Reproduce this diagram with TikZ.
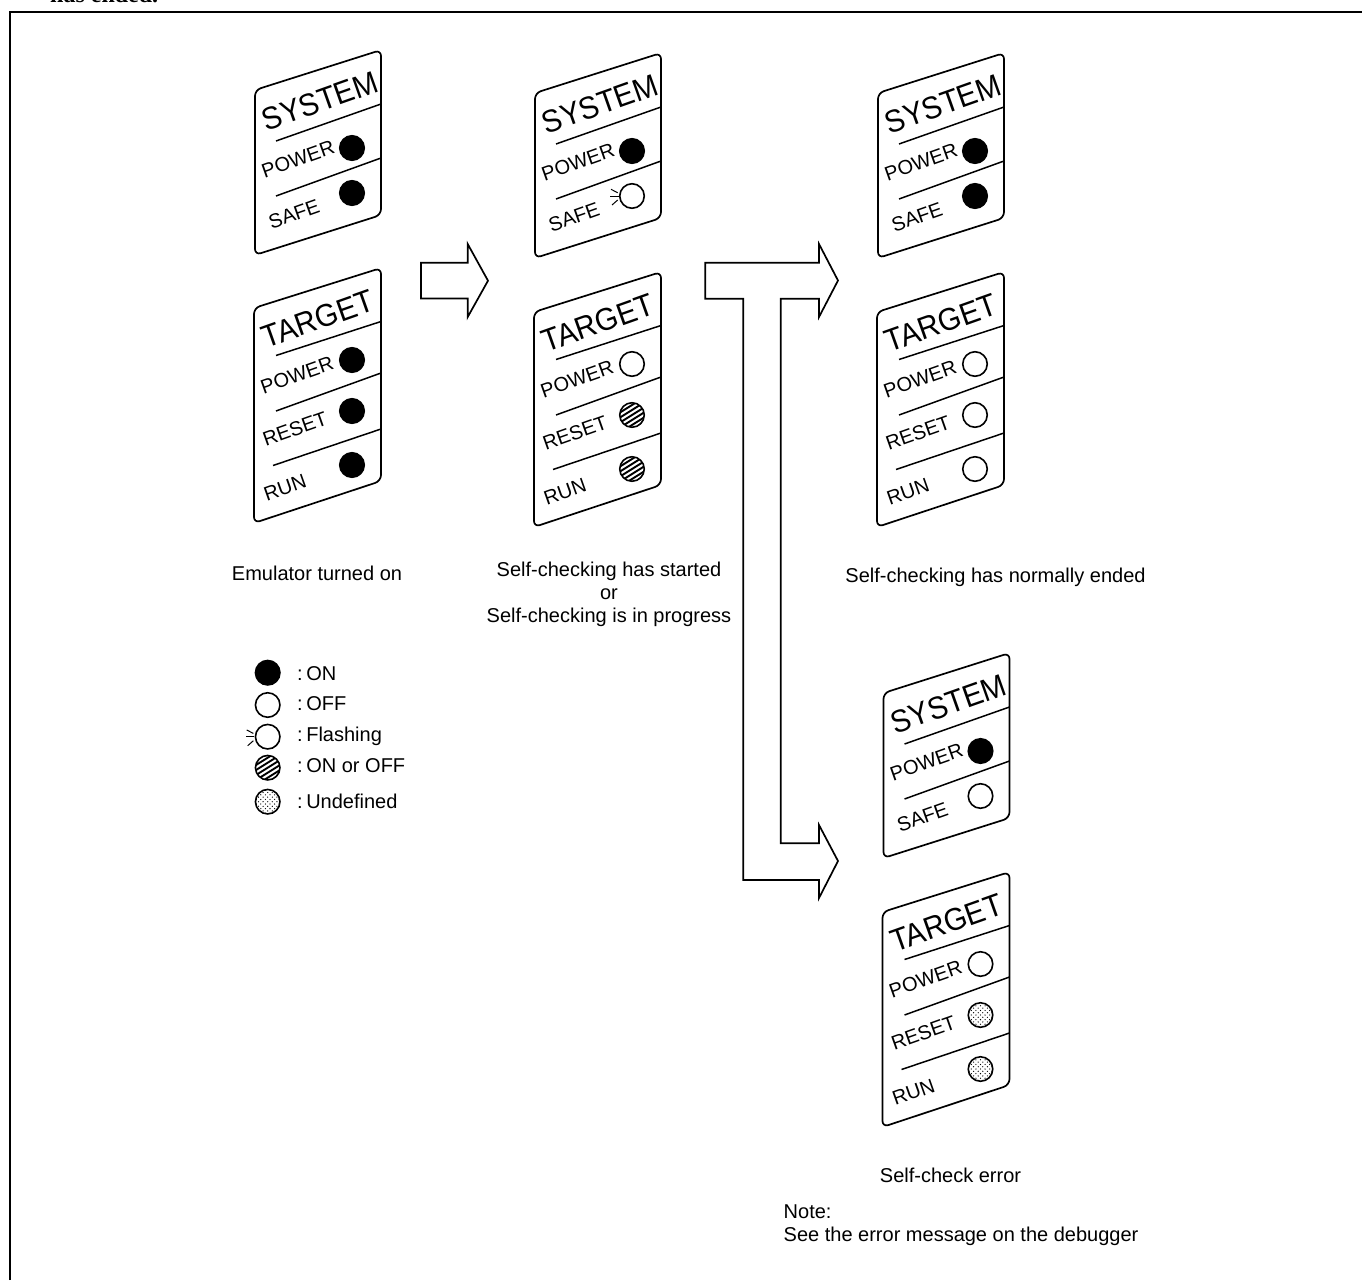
\documentclass[tikz,border=0pt]{standalone}
\usepackage{fontspec}
\setmainfont{Liberation Sans}
\newfontfamily\topserif{Liberation Serif}
\tikzset{
  x=1pt,y=-1pt,
  panelline/.style={line width=1.7pt,line join=round},
  sepline/.style={line width=1.5pt},
  blockarrow/.style={line width=1.7pt,line join=miter,fill=white},
  lbl/.style={inner sep=0pt,font=\fontsize{20}{23}\selectfont},
  ttl/.style={inner sep=0pt,rotate=19.5,xscale=.93,font=\fontsize{31.5}{32}\selectfont},
  row/.style={inner sep=0pt,rotate=19.5,font=\fontsize{20}{20}\selectfont},
  led/.style={circle,inner sep=0pt,minimum size=24.5pt,line width=1.6pt,draw=black},
  ledon/.style={led,fill=black},
  ledoff/.style={led,fill=white},
  ledhatch/.style={led,fill=white,path picture={
    \begin{scope}[shift={(path picture bounding box.center)}]
      \foreach \d in {-30,-25,...,30}
        \draw[line width=1.9pt] (-16,\d+10) -- (16,\d-10);
    \end{scope}}},
  leddots/.style={led,fill=white,path picture={
    \begin{scope}[shift={(path picture bounding box.center)}]
      \foreach \i in {-3,...,3} \foreach \j in {-3,...,3}{
        \fill[black] (\i*4.6,\j*4.6) circle (0.65pt);
        \fill[black] (\i*4.6+2.3,\j*4.6+2.3) circle (0.65pt);}
    \end{scope}}},
  ray/.style={line width=1pt},
}
\newcommand{\flashrays}[1]{%
  \draw[ray] ([shift={(-21,-6.7)}]#1.center) -- ([shift={(-14.3,-3.3)}]#1.center);
  \draw[ray] ([shift={(-21.7,0)}]#1.center) -- ([shift={(-13.3,0)}]#1.center);
  \draw[ray] ([shift={(-20,9)}]#1.center) -- ([shift={(-14.3,4)}]#1.center);}
% #1 prefix, #2 #3 shift, #4 #5 led styles
\newcommand{\syspanel}[5]{%
\begin{scope}[shift={(#2,#3)}]
  \draw[panelline,rounded corners=6pt] (535,93) -- (661,53) -- (661,218) -- (535,258) -- cycle;
  \draw[sepline] (556,144) -- (661,107);
  \draw[sepline] (556,199) -- (661,161);
  \node[ttl] (#1title) at (600,104) {SYSTEM};
  \node[row] (#1power) at (578,162) {POWER};
  \node[row] (#1safe) at (574,217) {SAFE};
  \node[#4] (#1a) at (632,151) {};
  \node[#5] (#1b) at (632,196) {};
\end{scope}}
\newcommand{\tgtpanel}[6]{%
\begin{scope}[shift={(#2,#3)}]
  \draw[panelline,rounded corners=6pt] (534,312) -- (661,272) -- (661,485) -- (534,527) -- cycle;
  \draw[sepline] (556,359.5) -- (661,325.5);
  \draw[sepline] (556,415) -- (661,377);
  \draw[sepline] (553,469.5) -- (661,433);
  \node[ttl] (#1title) at (598,323) {TARGET};
  \node[row] (#1power) at (577,379) {POWER};
  \node[row] (#1reset) at (575,433) {RESET};
  \node[row] (#1run) at (565,492) {RUN};
  \node[#4] (#1a) at (632,364) {};
  \node[#5] (#1b) at (632,415) {};
  \node[#6] (#1c) at (632,469) {};
\end{scope}}
\begin{document}
\begin{tikzpicture}
\useasboundingbox (0,0) rectangle (1362,1280);
\fill[white] (0,0) rectangle (1362,1280);
\node[inner sep=0pt,anchor=base west,font=\fontsize{24}{24}\selectfont\topserif\bfseries] (cuttext) at (50,2) {has ended.};
\draw[line width=2pt] (10,1280) -- (10,12) -- (1362,12);

\syspanel{sa}{-280}{-3}{ledon}{ledon}
\tgtpanel{ta}{-280}{-4}{ledon}{ledon}{ledon}
\syspanel{sb}{0}{0}{ledon}{ledoff}
\flashrays{sbb}
\tgtpanel{tb}{0}{0}{ledoff}{ledhatch}{ledhatch}
\syspanel{sc}{343}{0}{ledon}{ledon}
\tgtpanel{tc}{343}{0}{ledoff}{ledoff}{ledoff}
\syspanel{sd}{348.5}{600}{ledon}{ledoff}
\tgtpanel{td}{348.5}{600}{ledoff}{leddots}{leddots}

\draw[blockarrow] (421,262.7) -- (467.7,262.7) -- (467.7,244) -- (488,280.7) -- (467.7,317) -- (467.7,298.5) -- (421,298.5) -- cycle;
\draw[blockarrow] (705.3,262.7) -- (819,262.7) -- (819,244) -- (838,280.5) -- (819,317) -- (819,298.7) -- (780.7,298.7) -- (780.7,843.3) -- (819,843.3) -- (819,825) -- (838,861) -- (819,898) -- (819,880) -- (743.3,880) -- (743.3,298.7) -- (705.3,298.7) -- cycle;

\node[lbl,anchor=base] (l1) at (317,580) {Emulator turned on};
\node[lbl,align=center,anchor=center] (l2) at (609,594) {Self-checking has started\\or\\Self-checking is in progress};
\node[lbl,anchor=base] (l3) at (995.5,582) {Self-checking has normally ended};
\node[lbl,anchor=base] (l4) at (950.5,1182) {Self-check error};
\node[lbl,anchor=base west] (n1) at (783.5,1218) {Note:};
\node[lbl,anchor=base west] (n2) at (783.5,1241) {See the error message on the debugger};

\node[ledon] (k1) at (267.7,672.7) {};
\node[ledoff] (k2) at (267.7,705) {};
\node[ledoff] (k3) at (267.7,736.7) {};
\flashrays{k3}
\node[ledhatch] (k4) at (267.7,767.7) {};
\node[leddots] (k5) at (267.7,801.7) {};
\node[lbl,anchor=base west] (k1t) at (297,680) {:\kern-2pt\ ON};
\node[lbl,anchor=base west] (k2t) at (297,710) {:\kern-2pt\ OFF};
\node[lbl,anchor=base west] (k3t) at (297,741.7) {:\kern-2pt\ Flashing};
\node[lbl,anchor=base west] (k4t) at (297,772.7) {:\kern-2pt\ ON or OFF};
\node[lbl,anchor=base west] (k5t) at (297,808) {:\kern-2pt\ Undefined};
\end{tikzpicture}
\end{document}
